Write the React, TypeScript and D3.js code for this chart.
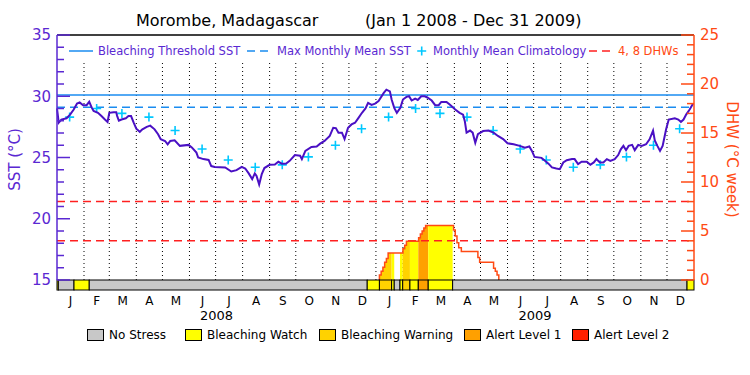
import React from "react";
import * as d3 from "d3";

// ---------- DATA ----------
const sstDay = [0, 2, 5, 11, 15, 19, 23, 26, 30, 34, 37, 40, 42, 47, 51, 55, 58, 60, 65, 68, 69, 71, 74, 79, 82, 85, 88, 91, 95, 98, 103, 107, 112, 116, 119, 124, 127, 130, 135, 141, 151, 155, 160, 162, 168, 174, 177, 181, 193, 200, 206, 212, 216, 220, 224, 227, 229, 232, 235, 238, 244, 250, 254, 258, 263, 267, 273, 279, 281, 285, 292, 298, 302, 307, 313, 317, 320, 323, 327, 330, 334, 338, 342, 346, 350, 354, 357, 361, 365, 369, 375, 378, 382, 384, 387, 390, 394, 397, 401, 404, 407, 411, 414, 418, 422, 425, 430, 434, 438, 441, 447, 451, 457, 462, 466, 468, 470, 474, 477, 480, 483, 489, 495, 501, 506, 512, 517, 524, 531, 537, 542, 545, 548, 556, 560, 564, 568, 573, 577, 581, 585, 591, 594, 598, 602, 608, 612, 616, 619, 623, 627, 631, 635, 640, 644, 647, 650, 653, 656, 660, 663, 667, 671, 676, 680, 684, 686, 689, 692, 695, 699, 702, 709, 713, 716, 719, 722, 726, 730];
const sstValue = [29.0, 27.85, 28.1, 28.2, 28.5, 28.9, 29.4, 29.5, 29.27, 29.27, 29.55, 29.05, 28.8, 28.65, 28.38, 28.1, 27.9, 28.65, 28.7, 28.7, 28.4, 28.0, 28.1, 28.2, 28.38, 28.38, 27.84, 27.35, 27.1, 27.3, 27.5, 27.6, 27.3, 26.9, 26.5, 26.35, 26.08, 26.35, 26.4, 25.95, 26.03, 25.8, 25.4, 25.0, 24.87, 24.8, 24.3, 24.22, 24.19, 23.86, 23.97, 24.24, 24.1, 23.7, 23.24, 23.7, 23.5, 22.8, 23.65, 24.14, 24.4, 24.43, 24.65, 24.5, 24.51, 24.73, 25.2, 25.14, 24.87, 25.54, 25.86, 25.9, 26.13, 26.35, 26.76, 27.43, 27.4, 27.03, 27.03, 26.5, 27.43, 27.7, 27.84, 28.24, 28.65, 29.0, 29.46, 29.3, 29.4, 29.6, 30.27, 30.54, 30.4, 29.73, 29.05, 28.65, 29.05, 29.73, 29.95, 30.0, 29.65, 29.8, 29.7, 30.0, 30.0, 29.9, 29.65, 29.27, 29.27, 29.54, 29.54, 29.3, 28.92, 28.65, 28.5, 27.97, 27.03, 27.2, 27.03, 26.2, 26.9, 27.16, 27.2, 27.03, 26.76, 26.5, 26.16, 26.08, 25.95, 25.8, 25.9, 25.54, 25.05, 24.97, 24.73, 24.5, 24.19, 24.1, 24.05, 24.59, 24.78, 24.87, 24.87, 24.46, 24.65, 24.65, 24.4, 24.6, 24.87, 24.6, 24.6, 24.87, 24.73, 24.87, 25.2, 25.67, 25.95, 25.6, 25.95, 26.03, 25.6, 26.03, 25.95, 26.08, 26.49, 27.2, 26.4, 25.95, 25.54, 25.95, 27.3, 28.1, 28.2, 28.1, 27.9, 28.1, 28.5, 28.92, 29.4];

const climYears = [2008, 2009];
const climMonthly = [28.3, 29.0, 28.6, 28.3, 27.2, 25.7, 24.8, 24.2, 24.4, 25.05, 26.0, 27.35];

const mmmSST = 29.1;
const thresholdSST = 30.1;
const dhwLevels = [4, 8];

const dhwDay = [369, 370, 372, 374, 376, 378, 380, 397, 399, 401, 415, 417, 419, 421, 423, 455, 457, 459, 461, 464, 483, 485, 501, 503, 505, 507];
const dhwValue = [0, 0.5, 0.9, 1.3, 1.8, 2.2, 2.75, 3.2, 3.55, 3.95, 4.3, 4.7, 5.0, 5.3, 5.55, 5.1, 4.5, 3.8, 3.3, 2.9, 2.3, 1.8, 1.2, 0.9, 0.5, 0];

// stress periods: start day, end day, level (0 none, 1 watch, 2 warning, 3 alert1, 4 alert2)
const stressStart = [0, 1.5, 19.5, 37, 356, 370, 384, 387, 393.6, 396.7, 405, 414.6, 426, 454, 723];
const stressEnd = [1.5, 19.5, 37, 356, 370, 384, 387, 393.6, 396.7, 405, 414.6, 426, 454, 723, 731];
const stressLevel = [1, 0, 1, 0, 1, 2, 1, 0, 1, 2, 1, 3, 1, 0, 1];

const stressNames = ["No Stress", "Bleaching Watch", "Bleaching Warning", "Alert Level 1", "Alert Level 2"];
const stressColors = ["#c8c8c8", "#ffff00", "#ffd200", "#ffa000", "#ff2000"];

const monthLetters = ["J", "F", "M", "A", "M", "J", "J", "A", "S", "O", "N", "D"];
const sstTicks = [15, 20, 25, 30, 35];
const dhwTicks = [0, 5, 10, 15, 20, 25];

// ---------- STYLE ----------
const W = 750, H = 375;
const L = 57, R = 694, T = 35, B = 280, BAR = 290;
const FONT = "DejaVu Sans";
const PURPLE = "#5a28d2";
const LINE_PURPLE = "#4a10c4";
const BLUE = "#1a8cf0";
const CYAN = "#00c8ff";
const RED = "#ff2020";
const ORANGE = "#ff4a14";

const t0 = Date.UTC(2008, 0, 1);
const dayToDate = (d: number) => new Date(t0 + d * 864e5);

export default function App() {
  const x = d3.scaleUtc().domain([new Date(t0), new Date(Date.UTC(2010, 0, 1))]).range([L, R]);
  const y = d3.scaleLinear().domain([15, 35]).range([B, T]);
  const yd = d3.scaleLinear().domain([0, 25]).range([B, T]);

  const months = d3.utcMonth.range(new Date(t0), new Date(Date.UTC(2010, 0, 1)));

  const sstLine = d3.line<number>()
    .x((_, i) => x(dayToDate(sstDay[i])))
    .y((v) => y(v))(sstValue) as string;

  const dhwArea = d3.area<number>()
    .curve(d3.curveStepAfter)
    .x((_, i) => x(dayToDate(dhwDay[i])))
    .y0(yd(0))
    .y1((v) => yd(v))(dhwValue) as string;
  const dhwLine = d3.line<number>()
    .curve(d3.curveStepAfter)
    .x((_, i) => x(dayToDate(dhwDay[i])))
    .y((v) => yd(v))(dhwValue) as string;

  const sstMinor = d3.range(15, 36);
  const dhwMinor = d3.range(0, 26);

  const climPts: { cx: number; cy: number }[] = [];
  climYears.forEach((yr) => {
    climMonthly.forEach((v, m) => {
      climPts.push({ cx: x(new Date(Date.UTC(yr, m, 15, 12))), cy: y(v) });
    });
  });

  const legY = 51;
  const bottomLegX = [87, 185, 319, 464, 572];

  return (
    <svg width={W} height={H} style={{ position: "absolute", left: 0, top: 0, background: "#fff" }} fontFamily={FONT}>
      <rect x={0} y={0} width={W} height={H} fill="#fff" />
      {/* title */}
      <text x={136} y={26} fontSize={16} fill="#000">Morombe, Madagascar</text>
      <text x={365} y={26} fontSize={16} fill="#000">(Jan 1 2008 - Dec 31 2009)</text>

      {/* month dotted lines */}
      {months.slice(1).map((m, i) => (
        <line key={"ml" + i} x1={x(m)} x2={x(m)} y1={63} y2={B} stroke="#000" strokeWidth={1} strokeDasharray="1,3" />
      ))}

      {/* DHW fill by stress level */}
      <defs>
        <clipPath id="dhwClip">
          <path d={dhwArea} />
        </clipPath>
      </defs>
      <g clipPath="url(#dhwClip)">
        {stressLevel.map((lv, i) =>
          lv > 0 ? (
            <rect key={"df" + i} x={x(dayToDate(stressStart[i]))} width={x(dayToDate(stressEnd[i])) - x(dayToDate(stressStart[i]))}
              y={T} height={B - T} fill={stressColors[lv]} />
          ) : null
        )}
      </g>

      {/* thresholds */}
      <line x1={L} x2={R} y1={y(thresholdSST)} y2={y(thresholdSST)} stroke={BLUE} strokeWidth={1.5} />
      <line x1={L} x2={R} y1={y(mmmSST)} y2={y(mmmSST)} stroke={BLUE} strokeWidth={1.5} strokeDasharray="8,5" />
      {dhwLevels.map((v) => (
        <line key={"dl" + v} x1={L} x2={R} y1={yd(v)} y2={yd(v)} stroke={RED} strokeWidth={1.5} strokeDasharray="8,5" />
      ))}

      {/* DHW outline */}
      <path d={dhwLine} fill="none" stroke={ORANGE} strokeWidth={1.5} />

      {/* climatology */}
      {climPts.map((p, i) => (
        <path key={"c" + i} d={`M${p.cx - 4.5},${p.cy}H${p.cx + 4.5}M${p.cx},${p.cy - 4.5}V${p.cy + 4.5}`} stroke={CYAN} strokeWidth={1.6} />
      ))}

      {/* SST line */}
      <path d={sstLine} fill="none" stroke={LINE_PURPLE} strokeWidth={2} />

      {/* stress bar */}
      {stressLevel.map((lv, i) => (
        <rect key={"sb" + i} x={x(dayToDate(stressStart[i]))} width={x(dayToDate(stressEnd[i])) - x(dayToDate(stressStart[i]))}
          y={B} height={BAR - B} fill={stressColors[lv]} stroke="#000" strokeWidth={1} />
      ))}

      {/* frame */}
      <line x1={L} x2={R} y1={T} y2={T} stroke="#000" strokeWidth={1.5} />
      <line x1={L} x2={L} y1={T} y2={B} stroke={PURPLE} strokeWidth={1.5} />
      <line x1={R} x2={R} y1={T} y2={B} stroke={ORANGE} strokeWidth={1.5} />

      {/* left ticks */}
      {sstMinor.map((v) => (
        <line key={"lt" + v} x1={L} x2={L + (v % 5 === 0 ? 13 : 7)} y1={y(v)} y2={y(v)} stroke={PURPLE} strokeWidth={1.5} />
      ))}
      {sstTicks.map((v) => (
        <text key={"ll" + v} x={51} y={y(v)} dy="0.36em" textAnchor="end" fontSize={15} fill={PURPLE}>{v}</text>
      ))}
      {/* right ticks */}
      {dhwMinor.map((v) => (
        <line key={"rt" + v} x1={R} x2={R - (v % 5 === 0 ? 13 : 7)} y1={yd(v)} y2={yd(v)} stroke={ORANGE} strokeWidth={1.5} />
      ))}
      {dhwTicks.map((v) => (
        <text key={"rl" + v} x={700} y={yd(v)} dy="0.36em" textAnchor="start" fontSize={15} fill={ORANGE}>{v}</text>
      ))}

      {/* axis titles */}
      <text transform={`translate(20,${(T + B) / 2 + 2}) rotate(-90)`} textAnchor="middle" fontSize={15} fill={PURPLE}>SST (°C)</text>
      <text transform={`translate(727,${(T + B) / 2 + 2}) rotate(90)`} textAnchor="middle" fontSize={15} fill={ORANGE}>DHW (°C week)</text>

      {/* month labels */}
      {months.map((m, i) => {
        const next = d3.utcMonth.offset(m, 1);
        return (
          <text key={"mt" + i} x={(x(m) + x(next)) / 2} y={305} textAnchor="middle" fontSize={12} fill="#000">
            {monthLetters[m.getUTCMonth()]}
          </text>
        );
      })}
      {climYears.map((yr) => (
        <text key={"yr" + yr} x={(x(new Date(Date.UTC(yr, 0, 1))) + x(new Date(Date.UTC(yr + 1, 0, 1)))) / 2} y={320}
          textAnchor="middle" fontSize={13} fill="#000">{yr}</text>
      ))}

      {/* top legend */}
      <line x1={69} x2={93} y1={legY} y2={legY} stroke={BLUE} strokeWidth={1.5} />
      <text x={98} y={legY} dy="0.36em" fontSize={11.5} fill={PURPLE}>Bleaching Threshold SST</text>
      <line x1={247} x2={271} y1={legY} y2={legY} stroke={BLUE} strokeWidth={1.5} strokeDasharray="8,5" />
      <text x={277} y={legY} dy="0.36em" fontSize={11.5} fill={PURPLE}>Max Monthly Mean SST</text>
      <path d={`M${421.7 - 4.5},${legY}H${421.7 + 4.5}M421.7,${legY - 4.5}V${legY + 4.5}`} stroke={CYAN} strokeWidth={1.6} />
      <text x={433} y={legY} dy="0.36em" fontSize={11.5} fill={PURPLE}>Monthly Mean Climatology</text>
      <line x1={589} x2={613} y1={legY} y2={legY} stroke={RED} strokeWidth={1.5} strokeDasharray="8,5" />
      <text x={618} y={legY} dy="0.36em" fontSize={11.5} fill={ORANGE}>4, 8 DHWs</text>

      {/* bottom legend */}
      {stressNames.map((n, i) => (
        <g key={"bl" + i}>
          <rect x={bottomLegX[i] + 0.5} y={329.5} width={16} height={11} fill={stressColors[i]} stroke="#000" strokeWidth={1} />
          <text x={bottomLegX[i] + 22} y={335} dy="0.36em" fontSize={12} fill="#000">{n}</text>
        </g>
      ))}
    </svg>
  );
}
